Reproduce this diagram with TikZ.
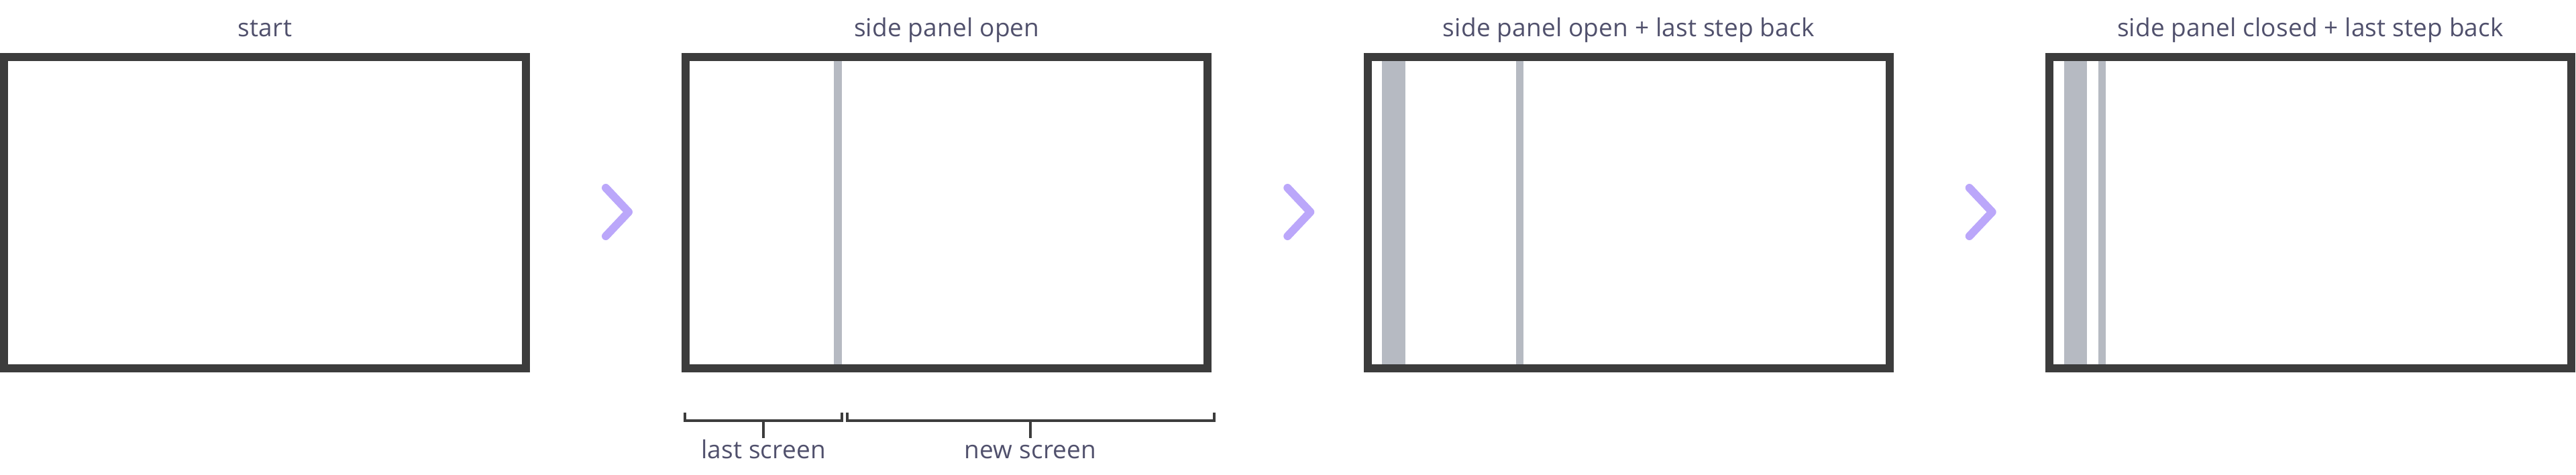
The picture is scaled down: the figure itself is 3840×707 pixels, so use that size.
\documentclass[tikz,border=0pt]{standalone}
\usepackage{fontspec}
\setmainfont{Open Sans}[LetterSpace=0.5]
\definecolor{framec}{HTML}{3C3C3C}
\definecolor{barc}{HTML}{B6BAC2}
\definecolor{chevc}{HTML}{BBA7FA}
\definecolor{textc}{HTML}{50506C}
\tikzset{
  screen/.style={draw=framec, line width=12pt, rectangle, minimum width=778pt, minimum height=464pt, inner sep=0pt},
  bar/.style={fill=barc, draw=none},
  chev/.style={draw=chevc, line width=12pt, line cap=round, line join=round},
  brk/.style={draw=framec, line width=3.5pt},
  lbl/.style={text=textc, font=\fontsize{37}{44}\selectfont, anchor=base, inner sep=0pt}
}
\begin{document}
\begin{tikzpicture}[x=1pt,y=-1pt]
\useasboundingbox (0,0) rectangle (3840,707);
% side panel bars
\fill[bar] (1243,91) rectangle (1255,543);
\fill[bar] (2060,91) rectangle (2095,543);
\fill[bar] (2260,91) rectangle (2271,543);
\fill[bar] (3077,91) rectangle (3111,543);
\fill[bar] (3128,91) rectangle (3139,543);
% screens
\node[screen] (f1) at (395,317) {};
\node[screen] (f2) at (1411.3,317) {};
\node[screen] (f3) at (2427.7,317) {};
\node[screen] (f4) at (3444,317) {};
% titles
\node[lbl] (t1) at (395,54) {start};
\node[lbl] (t2) at (1411.3,54) {side panel open};
\node[lbl] (t3) at (2427.7,54) {side panel open + last step back};
\node[lbl] (t4) at (3444,54) {side panel closed + last step back};
% chevrons
\foreach \o in {0,1016.3,2032.7}{
  \draw[chev] (903+\o,280) -- (937+\o,316) -- (903+\o,352);
}
% brackets
\coordinate (b1a) at (1021,615);
\coordinate (b1b) at (1255,615);
\coordinate (b2a) at (1263,615);
\coordinate (b2b) at (1810,615);
\draw[brk] (b1a) -- ++(0,12) -| (b1b);
\draw[brk] (b2a) -- ++(0,12) -| (b2b);
\node[lbl] (l1) at (1138,683) {last screen};
\node[lbl] (l2) at (1536,683) {new screen};
\draw[brk] (1138,627) -- (1138,653);
\draw[brk] (1536,627) -- (1536,653);
\end{tikzpicture}
\end{document}
